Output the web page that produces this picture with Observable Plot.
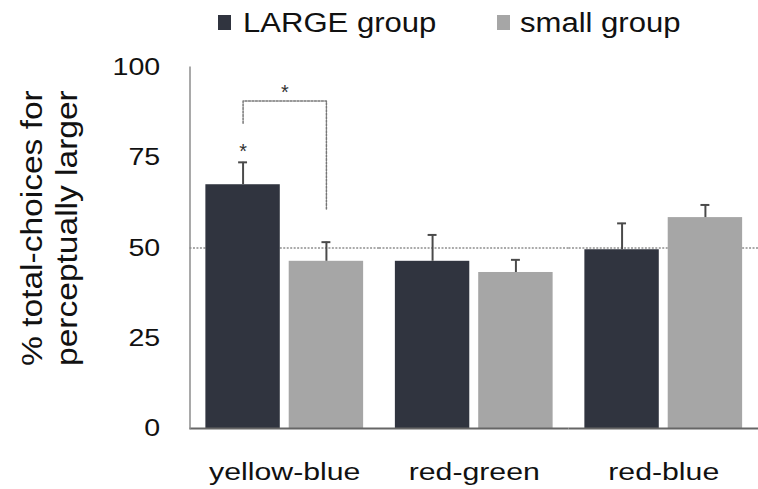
<!DOCTYPE html>
<html>
<head>
<meta charset="utf-8">
<script src="https://cdn.jsdelivr.net/npm/d3@7"></script>
<script src="https://cdn.jsdelivr.net/npm/@observablehq/plot@0.6"></script>
<style>
  html, body { margin: 0; padding: 0; background: #fff; overflow: hidden; }
  body { width: 758px; height: 489px; font-family: "Liberation Sans", Arial, Helvetica, sans-serif; }
  #legend { position: relative; height: 50px; width: 758px; }
  .sw { position: absolute; top: 15px; width: 13px; height: 15px; }
  .lt { position: absolute; top: 10px; font-size: 27px; line-height: 1; color: #111; transform: scaleX(1.15); transform-origin: left center; white-space: nowrap; }
  svg { display: block; }
</style>
</head>
<body>
<div id="legend"></div>
<div id="chart"></div>
<script>
// ---- data ----
const categories = ["yellow-blue", "red-green", "red-blue"];
const groups = ["LARGE", "small"];
const groupLabels = ["LARGE group", "small group"];
const colors = ["#30343f", "#a6a6a6"];
const largeMeans = [67.5, 46.3, 49.5];
const largeSE = [6.2, 7.3, 7.3];
const smallMeans = [46.3, 43.2, 58.4];
const smallSE = [5.3, 3.5, 3.5];
const yTicks = [0, 25, 50, 75, 100];
const chanceLevel = [50];
const bracketGroups = ["LARGE", "LARGE", "small", "small"];
const bracketY = [84.5, 90.7, 90.7, 60.7];
const barStarY = [76.8];
const bracketStarY = [93];
const yLabel = "% total-choices for\nperceptually larger";

// ---- tables built from arrays ----
const rows = [];
categories.forEach((c, i) => {
  rows.push({cat: c, group: groups[0], value: largeMeans[i], hi: largeMeans[i] + largeSE[i]});
  rows.push({cat: c, group: groups[1], value: smallMeans[i], hi: smallMeans[i] + smallSE[i]});
});
const bracket = bracketGroups.map((g, i) => ({cat: categories[0], group: g, y: bracketY[i]}));
const barStars = barStarY.map(y => ({cat: categories[0], group: groups[0], y}));
const bracketStars = bracketStarY.map(y => ({cat: categories[0], y}));

// ---- legend ----
const legend = document.getElementById("legend");
const legendPos = [[218, 243], [497, 520]];
groupLabels.forEach((lab, i) => {
  const sw = document.createElement("div");
  sw.className = "sw";
  sw.style.left = legendPos[i][0] + "px";
  sw.style.background = colors[i];
  legend.appendChild(sw);
  const t = document.createElement("div");
  t.className = "lt";
  t.style.left = legendPos[i][1] + "px";
  t.textContent = lab;
  legend.appendChild(t);
});

// ---- chart ----
const lineColor = "#4a4a4a";
const chart = Plot.plot({
  width: 764,
  height: 439,
  marginTop: 17,
  marginBottom: 58,
  marginLeft: 190,
  marginRight: 0,
  style: {fontFamily: '"Liberation Sans", Arial, Helvetica, sans-serif', color: "#111", background: "#fff"},
  fx: {domain: categories, padding: 0},
  x: {domain: groups, paddingInner: 0.106, paddingOuter: 0.182, axis: null},
  y: {domain: [0, 100]},
  color: {domain: groups, range: colors},
  marks: [
    Plot.ruleY(chanceLevel, {stroke: "#8f8f8f", strokeWidth: 1.5, strokeDasharray: "2,1.5"}),
    Plot.barY(rows, {fx: "cat", x: "group", y: "value", fill: "group"}),
    Plot.ruleX(rows, {fx: "cat", x: "group", y1: "value", y2: "hi", stroke: lineColor, strokeWidth: 2}),
    Plot.tickY(rows, {fx: "cat", x: "group", y: "hi", stroke: lineColor, strokeWidth: 2, insetLeft: 33, insetRight: 33}),
    Plot.ruleY([0], {stroke: "#666", strokeWidth: 2}),
    Plot.frame({anchor: "left", facetAnchor: "left", stroke: "#8c8c8c", strokeWidth: 1.5}),
    Plot.line(bracket, {fx: "cat", x: "group", y: "y", stroke: "#777", strokeWidth: 1.5, strokeDasharray: "2,1.5"}),
    Plot.text(barStars, {fx: "cat", x: "group", y: "y", text: () => "*", fontSize: 20, fill: "#333"}),
    Plot.text(bracketStars, {fx: "cat", y: "y", text: () => "*", fontSize: 20, fill: "#333"}),
    Plot.axisY({ticks: yTicks, tickSize: 0, tickPadding: 30, fontSize: 24, label: null}),
    Plot.axisFx({anchor: "bottom", tickSize: 0, tickPadding: 34, fontSize: 25, label: null}),
    Plot.text([{cat: categories[0]}], {fx: "cat", frameAnchor: "left", text: () => yLabel, rotate: -90,
      fontSize: 26, lineHeight: 1.2, textAnchor: "middle", lineAnchor: "middle", dx: -143, dy: -20,
      ariaDescription: "y-label"})
  ]
});
document.getElementById("chart").appendChild(chart);

// horizontal stretch of text, as in the reference
function stretch(sel, sx, sy) {
  chart.querySelectorAll(sel).forEach(t => {
    const tr = t.getAttribute("transform") || "";
    const x = +(t.getAttribute("x") || 0);
    t.setAttribute("transform", `${tr} translate(${x},0) scale(${sx},${sy}) translate(${-x},0)`);
  });
}
stretch('g[aria-label="y-axis tick label"] text', 1.2, 1);
stretch('g[aria-label="fx-axis tick label"] text', 1.22, 1);
stretch('g[aria-description="y-label"] text', 1.3, 1.15);
</script>
</body>
</html>
